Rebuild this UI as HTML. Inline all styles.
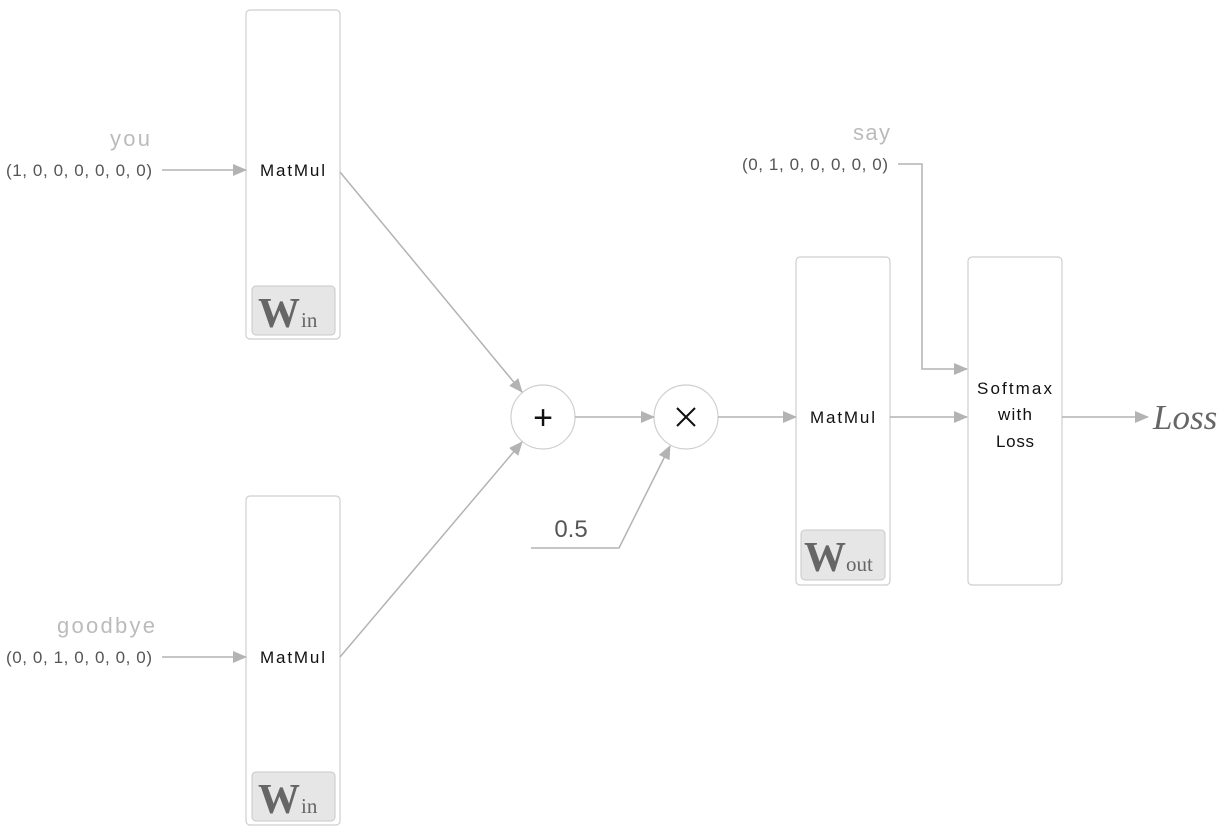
<!DOCTYPE html>
<html><head><meta charset="utf-8"><style>
html,body{margin:0;padding:0;background:#fff;width:1224px;height:828px;overflow:hidden}
text{font-family:"Liberation Sans",sans-serif}
</style></head><body>
<svg width="1224" height="828" viewBox="0 0 1224 828" xmlns="http://www.w3.org/2000/svg">
<defs>
<marker id="a" markerWidth="14" markerHeight="12" refX="13" refY="6" orient="auto" markerUnits="userSpaceOnUse">
<path d="M0,0 L14,6 L0,12 Z" fill="#b3b3b3"/></marker>
</defs>
<g fill="none" stroke="#cfcfcf" stroke-width="1.2">
<rect x="246" y="10" width="94" height="329" rx="4"/>
<rect x="246" y="496" width="94" height="329" rx="4"/>
<rect x="796" y="257" width="94" height="328" rx="4"/>
<rect x="968" y="257" width="94" height="328" rx="4"/>
<circle cx="543" cy="417" r="32" fill="#fff"/>
<circle cx="686" cy="417" r="32" fill="#fff"/>
</g>
<g fill="#e6e6e6" stroke="#c8c8c8" stroke-width="1">
<rect x="252" y="286" width="83" height="49" rx="4"/>
<rect x="252" y="772" width="83" height="49" rx="4"/>
<rect x="801" y="530" width="84" height="50" rx="4"/>
</g>
<g fill="#666">
<text x="258" y="327" font-size="42" font-weight="bold" style="font-family:'Liberation Serif',serif">W<tspan font-size="21" font-weight="normal" dx="1">in</tspan></text>
<text x="258" y="813" font-size="42" font-weight="bold" style="font-family:'Liberation Serif',serif">W<tspan font-size="21" font-weight="normal" dx="1">in</tspan></text>
<text x="804" y="571" font-size="42" font-weight="bold" style="font-family:'Liberation Serif',serif">W<tspan font-size="21" font-weight="normal" dx="0">out</tspan></text>
</g>
<g stroke="#b3b3b3" stroke-width="1.5" fill="none">
<line x1="162" y1="170" x2="246" y2="170" marker-end="url(#a)"/>
<line x1="162" y1="657" x2="246" y2="657" marker-end="url(#a)"/>
<line x1="340" y1="172" x2="522" y2="392" marker-end="url(#a)"/>
<line x1="340" y1="657" x2="522" y2="442" marker-end="url(#a)"/>
<line x1="575" y1="417" x2="654" y2="417" marker-end="url(#a)"/>
<polyline points="531,548 619,548 670,446" marker-end="url(#a)"/>
<line x1="718" y1="417" x2="796" y2="417" marker-end="url(#a)"/>
<polyline points="898,164 922,164 922,369 967,369" marker-end="url(#a)"/>
<line x1="890" y1="417" x2="967" y2="417" marker-end="url(#a)"/>
<line x1="1062" y1="417" x2="1148" y2="417" marker-end="url(#a)"/>
</g>
<g font-size="17" fill="#111">
<text x="260" y="176" textLength="65">MatMul</text>
<text x="260" y="663" textLength="65">MatMul</text>
<text x="810" y="423" textLength="65">MatMul</text>
<text x="977" y="394" textLength="75">Softmax</text>
<text x="998" y="420" textLength="34">with</text>
<text x="996" y="447" textLength="38">Loss</text>
</g>
<g font-size="17" fill="#555">
<text x="6" y="176" textLength="146">(1, 0, 0, 0, 0, 0, 0)</text>
<text x="6" y="663" textLength="146">(0, 0, 1, 0, 0, 0, 0)</text>
<text x="742" y="170" textLength="146">(0, 1, 0, 0, 0, 0, 0)</text>
</g>
<g font-size="22" fill="#bbb">
<text x="110" y="146" textLength="40">you</text>
<text x="57" y="633" textLength="98">goodbye</text>
<text x="853" y="140" textLength="37">say</text>
</g>
<text x="571" y="537" font-size="24" fill="#555" text-anchor="middle">0.5</text>
<text x="543" y="429" font-size="34" fill="#111" text-anchor="middle">+</text>
<g stroke="#111" stroke-width="2"><line x1="677" y1="408" x2="695" y2="426"/><line x1="695" y1="408" x2="677" y2="426"/></g>
<text x="1153" y="429" font-size="35" font-style="italic" fill="#666" style="font-family:'Liberation Serif',serif">Loss</text>
</svg>
</body></html>
